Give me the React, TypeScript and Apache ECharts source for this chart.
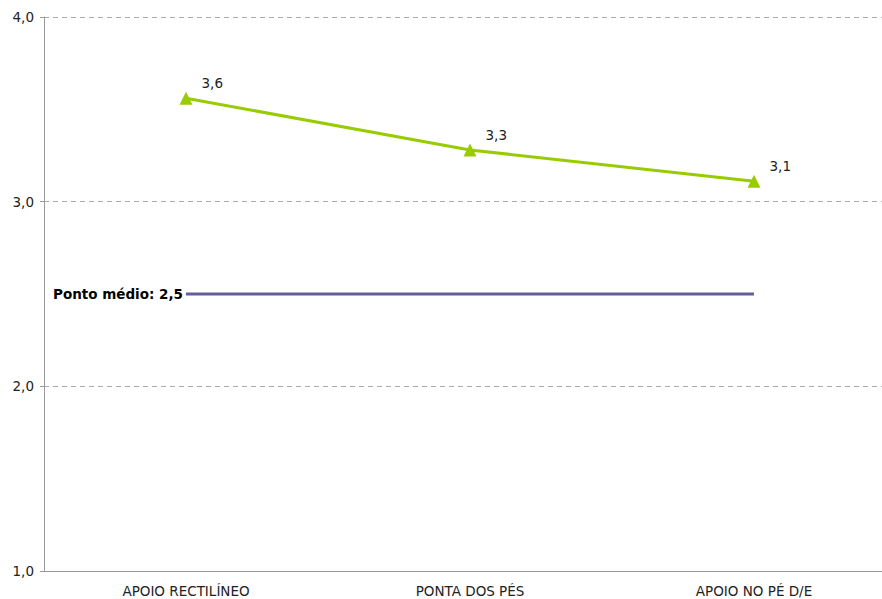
import React, { useEffect, useRef } from "react";
import * as echarts from "echarts";

const categories = ["APOIO RECTILÍNEO", "PONTA DOS PÉS", "APOIO NO PÉ D/E"];
const scores = [3.56, 3.28, 3.11];
const midpoint = [2.5, 2.5, 2.5];
const midpointLabel = "Ponto médio: 2,5";
const yTicks = { min: 1, max: 4, interval: 1 };

const fmt = (v: number) => v.toFixed(1).replace(".", ",");

export default function App() {
  const ref = useRef<HTMLDivElement>(null);
  useEffect(() => {
    if (!ref.current) return;
    const chart = echarts.init(ref.current, undefined, { renderer: "svg" });
    const font = "DejaVu Sans, Verdana, sans-serif";
    chart.setOption({
      animation: false,
      textStyle: { fontFamily: font },
      grid: { left: 44, top: 17, right: 0, bottom: 28, containLabel: false },
      xAxis: {
        type: "category",
        data: categories,
        boundaryGap: true,
        axisLine: { lineStyle: { color: "#999", width: 1 } },
        axisTick: { inside: true, length: 5, lineStyle: { color: "#999" } },
        axisLabel: { color: "#222", fontSize: 13.5, fontFamily: font, margin: 13 },
      },
      yAxis: {
        type: "value",
        min: yTicks.min,
        max: yTicks.max,
        interval: yTicks.interval,
        axisLine: { show: true, lineStyle: { color: "#999" } },
        axisTick: { show: true, length: 4, lineStyle: { color: "#999" } },
        axisLabel: {
          color: "#222",
          fontSize: 13.5,
          fontFamily: font,
          margin: 10,
          formatter: (v: number) => fmt(v),
        },
        splitLine: { lineStyle: { color: "#aaa", type: [5, 4], width: 1 } },
      },
      series: [
        {
          type: "line",
          data: midpoint,
          symbol: "none",
          lineStyle: { color: "#625d9c", width: 3 },
          z: 2,
          markPoint: {
            symbol: "circle",
            symbolSize: 0,
            data: [{ coord: [0, midpoint[0]] }],
            label: {
              show: true,
              position: "left",
              distance: 3,
              formatter: midpointLabel,
              color: "#000",
              fontWeight: "bold",
              fontSize: 13.5,
              fontFamily: font,
            },
          },
        },
        {
          type: "line",
          data: scores,
          symbol: "triangle",
          symbolSize: 13,
          itemStyle: { color: "#99cc00" },
          lineStyle: { color: "#99cc00", width: 3 },
          z: 3,
          label: {
            show: true,
            position: "right",
            distance: 9,
            offset: [0, -15],
            color: "#222",
            fontSize: 13.5,
            fontFamily: font,
            formatter: (p: any) => fmt(p.value),
          },
        },
      ],
    });
    return () => chart.dispose();
  }, []);
  return (
    <div style={{ width: 882, height: 599, position: "absolute", left: 0, top: 0, overflow: "hidden" }}>
      <div ref={ref} style={{ width: 896, height: 599 }} />
    </div>
  );
}
